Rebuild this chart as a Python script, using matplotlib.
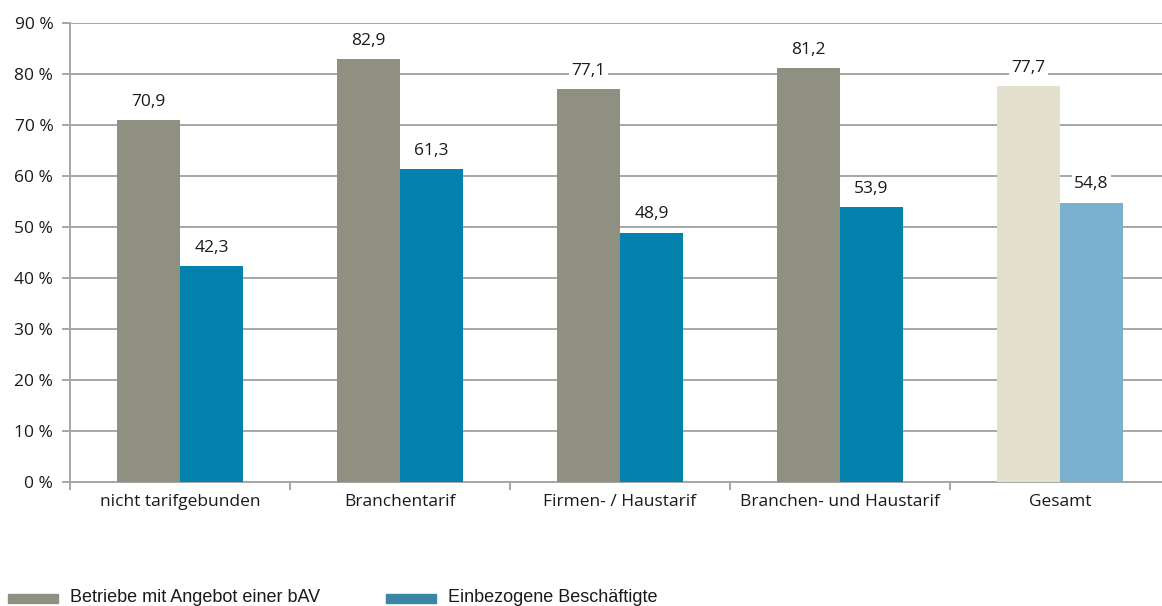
import matplotlib.pyplot as plt
import numpy as np

categories = ["nicht tarifgebunden", "Branchentarif", "Firmen- / Haustarif",
              "Branchen- und Haustarif", "Gesamt"]
betriebe = [70.9, 82.9, 77.1, 81.2, 77.7]
beschaeftigte = [42.3, 61.3, 48.9, 53.9, 54.8]
legend_labels = ["Betriebe mit Angebot einer bAV", "Einbezogene Beschäftigte"]

gray = "#8f8f82"
blue = "#0382ad"
gray_light = "#e3e1cd"
blue_light = "#7aafce"
gridc = "#a6a6a6"
txt = "#1a1a1a"

plt.rcParams['font.family'] = ['Open Sans', 'DejaVu Sans']

W, H = 1162, 606
fig = plt.figure(figsize=(W / 100, H / 100), dpi=100)
ax = fig.add_axes([70 / W, (H - 482) / H, 1100 / W, 459 / H])

x = np.arange(len(categories))
bw = 63 / 220
c1 = [gray] * 4 + [gray_light]
c2 = [blue] * 4 + [blue_light]
b1 = ax.bar(x - bw / 2, betriebe, bw, color=c1, zorder=3)
b2 = ax.bar(x + bw / 2, beschaeftigte, bw, color=c2, zorder=3)

for bars, vals in [(b1, betriebe), (b2, beschaeftigte)]:
    for r, v in zip(bars, vals):
        ax.text(r.get_x() + r.get_width() / 2, v + 2.0, f"{v:.1f}".replace(".", ","),
                ha="center", va="bottom", fontsize=12.5, color=txt, zorder=4,
                bbox=dict(facecolor="white", edgecolor="none", pad=1.5))

ax.set_xlim(-0.5, 4.5)
ax.set_ylim(0, 90)
ax.set_yticks(np.arange(0, 91, 10))
ax.set_yticklabels([f"{t} %" for t in range(0, 91, 10)], fontsize=12.5, color=txt)
ax.yaxis.grid(True, color=gridc, linewidth=1.4, zorder=0)
ax.tick_params(axis="y", length=6, width=1.4, color=gridc, pad=6)

ax.set_xticks(np.arange(-0.5, 4.6, 1))
ax.set_xticklabels([])
ax.set_xticks(x, minor=True)
ax.set_xticklabels(categories, minor=True, fontsize=12.5, color=txt)
ax.tick_params(axis="x", which="major", length=6, width=1.4, color=gridc)
ax.tick_params(axis="x", which="minor", length=0, pad=9)

for s in ["top", "right"]:
    ax.spines[s].set_visible(False)
for s in ["left", "bottom"]:
    ax.spines[s].set_color(gridc)
    ax.spines[s].set_linewidth(1.4)

# legend at the bottom
lx = [8, 386]
cols = [gray, "#3a87a5"]
for px, col, lab in zip(lx, cols, legend_labels):
    fig.patches.append(plt.Rectangle((px / W, (H - 603) / H), 50 / W, 9 / H,
                                     transform=fig.transFigure, color=col))
    fig.text((px + 62) / W, (H - 602) / H, lab, fontsize=13,
             family=['Liberation Sans', 'DejaVu Sans'], color=txt,
             ha="left", va="baseline")

fig.savefig("out.png", dpi=100)
